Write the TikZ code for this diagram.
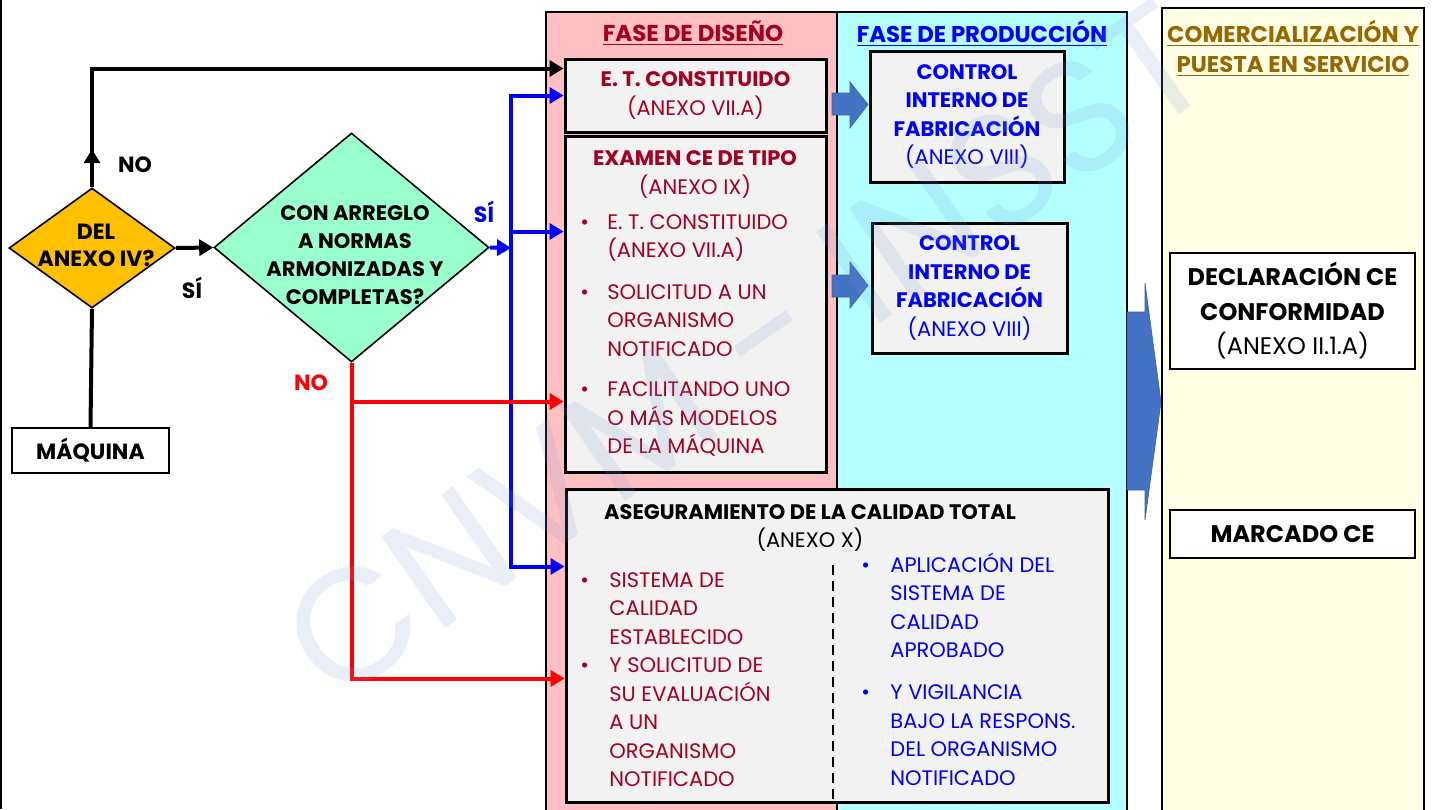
\documentclass[tikz,border=0pt]{standalone}
\usepackage{fontspec}
\setmainfont{Poppins}
\usepackage{tikz}
\usetikzlibrary{shapes.geometric, arrows.meta}
\definecolor{darkred}{RGB}{165,0,33}
\definecolor{pureblue}{RGB}{0,0,255}
\definecolor{puregold}{RGB}{153,102,0}
\definecolor{pinkfill}{RGB}{255,192,196}
\definecolor{cyanfill}{RGB}{180,255,255}
\definecolor{creamfill}{RGB}{255,255,230}
\definecolor{grayfill}{RGB}{242,242,242}
\definecolor{orangefill}{RGB}{255,192,0}
\definecolor{greenfill}{RGB}{153,255,204}
\definecolor{fatblue}{RGB}{68,114,196}
\definecolor{wmblue}{RGB}{120,150,210}
\tikzstyle{phase} = [rectangle, draw=black, line width=1pt, inner sep=0pt]
\tikzstyle{block} = [rectangle, draw=black, line width=1.5pt, fill=grayfill, inner sep=0pt, align=center, font=\fontsize{10.5}{14.25}\selectfont]
\tikzstyle{block_white} = [rectangle, draw=black, line width=1.2pt, fill=white, inner sep=0pt, align=center]
\tikzstyle{decision} = [diamond, draw=black, line width=0.8pt, inner sep=0pt]
\tikzstyle{txt} = [inner sep=0pt, font=\fontsize{10.5}{14.25}\selectfont]
\tikzstyle{label_txt} = [inner sep=0pt, font=\fontsize{11}{13}\selectfont\bfseries]
\tikzstyle{line} = [line width=2pt]
\tikzstyle{arrow} = [line width=2pt, -{Triangle[length=7pt,width=8pt]}]
\tikzstyle{arrow_blue} = [arrow, color=pureblue]
\tikzstyle{arrow_red} = [arrow, color=red]
\tikzstyle{fat_arrow} = [fill=fatblue, draw=fatblue!85!black, line width=0.3pt]

\begin{document}
\begin{tikzpicture}[x=0.5pt, y=-0.5pt]
    \useasboundingbox (0,0) rectangle (1434,809);
    \fill[white] (0,0) rectangle (1434,809);
    \draw[line width=1pt] (1,0) -- (1,809);

    \node (diseno) [phase, fill=pinkfill, minimum width=145.5pt, minimum height=409pt] at (691.5,421) {};
    \node (produccion) [phase, fill=cyanfill, minimum width=145pt, minimum height=409pt] at (982,421) {};
    \node (comercio) [phase, fill=creamfill, minimum width=131pt, minimum height=411pt] at (1293,419) {};
    \node (diseno_title) [txt, text=darkred, font=\fontsize{11.5}{13}\selectfont\bfseries] at (693,33) {\underline{FASE DE DISEÑO}};
    \node (produccion_title) [txt, text=pureblue, font=\fontsize{11.4}{13}\selectfont\bfseries] at (982,33) {\underline{FASE DE PRODUCCIÓN}};
    \node (comercio_title) [txt, text=puregold, font=\fontsize{11.4}{15}\selectfont\bfseries, align=center] at (1293,48) {\underline{COMERCIALIZACIÓN Y}\\\underline{PUESTA EN SERVICIO}};

    \node (maquina) [block_white, minimum width=78.5pt, minimum height=22.5pt, font=\fontsize{11}{13}\selectfont\bfseries] at (90.5,450.5) {MÁQUINA};
    \node (anexo) [decision, fill=orangefill, minimum width=83pt, minimum height=60pt] at (92,248) {};
    \node (anexo_txt) [txt, font=\fontsize{11}{13.5}\selectfont\bfseries, align=center] at (96,245) {DEL\\ANEXO IV?};
    \node (armon) [decision, fill=greenfill, minimum width=137.5pt, minimum height=114.5pt] at (351.5,247.5) {};
    \node (armon_txt) [txt, font=\fontsize{10.5}{14}\selectfont\bfseries, align=center] at (355,255.5) {CON ARREGLO\\A NORMAS\\ARMONIZADAS Y\\COMPLETAS?};

    \node (etc) [block, minimum width=130.5pt, minimum height=36.5pt, text=darkred] at (695.5,95.5) {\textbf{E. T. CONSTITUIDO}\\(ANEXO VII.A)};
    \node (examen) [block, minimum width=130.5pt, minimum height=168pt] at (695.5,304) {};
    \node (examen_title) [txt, text=darkred, anchor=base] at (695,165.5) {\begin{tabular}[t]{@{}c@{}}\textbf{EXAMEN CE DE TIPO}\\(ANEXO IX)\end{tabular}};
    \node (examen_list) [txt, text=darkred, anchor=base west] at (580,229.3) {\begin{tabular}[t]{@{}p{13.5pt}@{}l@{}}
        \textbullet & E. T. CONSTITUIDO\\ & (ANEXO VII.A)\\[6.5pt]
        \textbullet & SOLICITUD A UN\\ & ORGANISMO\\ & NOTIFICADO\\[6pt]
        \textbullet & FACILITANDO UNO\\ & O MÁS MODELOS\\ & DE LA MÁQUINA\end{tabular}};
    \node (asegur) [block, minimum width=271pt, minimum height=156.5pt] at (837,645.5) {};
    \node (asegur_title) [txt, anchor=base] at (810,519.3) {\begin{tabular}[t]{@{}c@{}}\textbf{ASEGURAMIENTO DE LA CALIDAD TOTAL}\\(ANEXO X)\end{tabular}};
    \node (asegur_left) [txt, text=darkred, anchor=base west] at (580,587.3) {\begin{tabular}[t]{@{}p{14.5pt}@{}l@{}}
        \textbullet & SISTEMA DE\\ & CALIDAD\\ & ESTABLECIDO\\
        \textbullet & Y SOLICITUD DE\\ & SU EVALUACIÓN\\ & A UN\\ & ORGANISMO\\ & NOTIFICADO\end{tabular}};
    \node (asegur_right) [txt, text=pureblue, anchor=base west] at (861,572.3) {\begin{tabular}[t]{@{}p{14.5pt}@{}l@{}}
        \textbullet & APLICACIÓN DEL\\ & SISTEMA DE\\ & CALIDAD\\ & APROBADO\\[6.75pt]
        \textbullet & Y VIGILANCIA\\ & BAJO LA RESPONS.\\ & DEL ORGANISMO\\ & NOTIFICADO\end{tabular}};
    \draw[line width=1pt, dash pattern=on 5pt off 3pt] (833,565) -- (833,800);

    \node (control_a) [block, minimum width=97pt, minimum height=65.5pt, text=pureblue] at (967,116.5) {\textbf{CONTROL}\\\textbf{INTERNO DE}\\\textbf{FABRICACIÓN}\\(ANEXO VIII)};
    \node (control_b) [block, minimum width=97.5pt, minimum height=65pt, text=pureblue] at (969.5,288) {\textbf{CONTROL}\\\textbf{INTERNO DE}\\\textbf{FABRICACIÓN}\\(ANEXO VIII)};

    \node (declar) [block_white, minimum width=122.5pt, minimum height=58pt, font=\fontsize{12}{17.25}\selectfont] at (1292.5,311) {\textbf{DECLARACIÓN CE}\\\textbf{CONFORMIDAD}\\(ANEXO II.1.A)};
    \node (marcado) [block_white, minimum width=122.5pt, minimum height=24pt, font=\fontsize{12}{14}\selectfont\bfseries] at (1292.5,534) {MARCADO CE};

    \fill[fat_arrow] (832,93) -- (850,93) -- (850,82) -- (868,104.5) -- (850,128) -- (850,115) -- (832,115) -- cycle;
    \fill[fat_arrow] (832,275) -- (850,275) -- (850,262) -- (868,285.5) -- (850,308) -- (850,297) -- (832,297) -- cycle;
    \fill[fat_arrow] (1127,312) -- (1145,312) -- (1145,283) -- (1161,402) -- (1145,520) -- (1145,490) -- (1127,490) -- cycle;

    \draw[line] (maquina.north) -- (anexo.south);
    \draw[arrow] (anexo.north) -- ++(0,-38);
    \draw[arrow] (anexo.north) |- ([yshift=-5.5pt]etc.north west);
    \draw[arrow] (anexo.east) -- (armon.west);
    \coordinate (si_bus) at (511,248);
    \draw[arrow_blue] (armon.east) -- (si_bus);
    \draw[arrow_blue] (si_bus) |- (etc.west);
    \draw[arrow_blue] (si_bus) |- ([yshift=-48.5pt]examen.north west);
    \draw[arrow_blue] (si_bus) |- ([yshift=-39.5pt]asegur.north west);
    \draw[arrow_red] (armon.south) |- ([yshift=-133.5pt]examen.north west);
    \draw[arrow_red] (armon.south) |- ([yshift=-95.5pt]asegur.north west);

    \node (no_label) [label_txt] at (135,165) {NO};
    \node (si_label) [label_txt] at (192,288) {SÍ};
    \node (si_blue) [label_txt, text=pureblue] at (484,212) {SÍ};
    \node (no_red) [label_txt, text=red] at (311,383) {NO};

    \node (marca) [rotate=35, text=wmblue, text opacity=0.16, font=\fontsize{80}{82}\selectfont] at (745,350) {CNVM - INSST};
\end{tikzpicture}
\end{document}
